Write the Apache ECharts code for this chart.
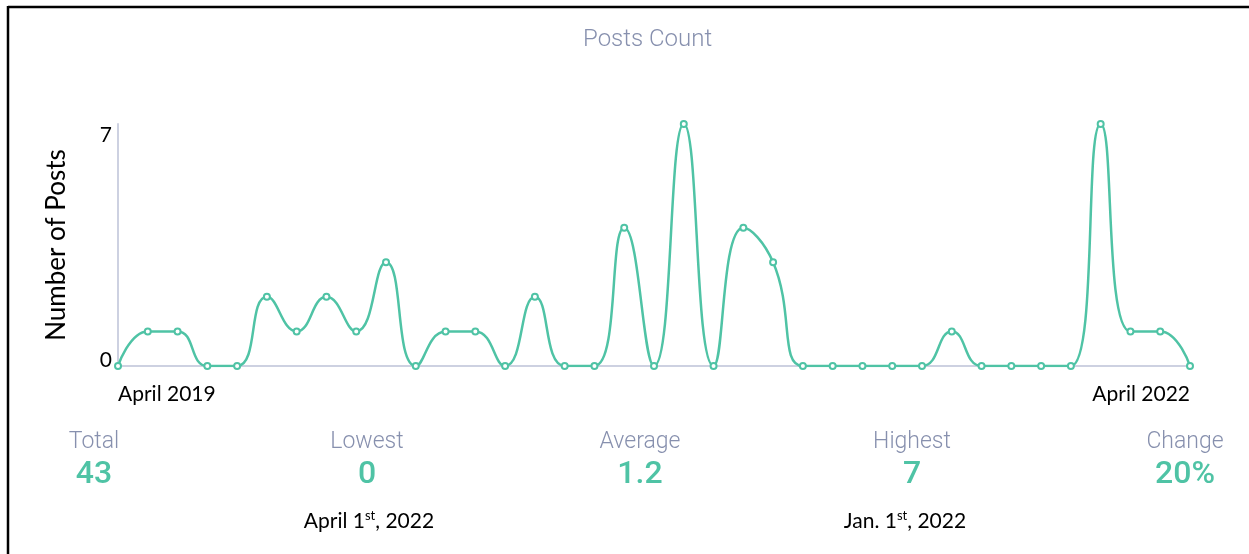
<!DOCTYPE html>
<html>
<head>
<meta charset="utf-8">
<script src="https://cdn.jsdelivr.net/npm/echarts@6/dist/echarts.min.js"></script>
<style>
  html, body { margin: 0; padding: 0; background: #fff; }
  #chart { width: 1249px; height: 554px; }
</style>
</head>
<body>
<div id="chart"></div>
<script>
// Monthly categories, April 2019 – April 2022
const months = [
  'April 2019','May 2019','June 2019','July 2019','August 2019','September 2019',
  'October 2019','November 2019','December 2019','January 2020','February 2020','March 2020',
  'April 2020','May 2020','June 2020','July 2020','August 2020','September 2020',
  'October 2020','November 2020','December 2020','January 2021','February 2021','March 2021',
  'April 2021','May 2021','June 2021','July 2021','August 2021','September 2021',
  'October 2021','November 2021','December 2021','January 2022','February 2022','March 2022',
  'April 2022'
];

// Number of posts per month
const posts = [
  0, 1, 1, 0, 0, 2, 1, 2, 1, 3, 0, 1, 1, 0, 2, 0, 0, 4, 0, 7,
  0, 4, 3, 0, 0, 0, 0, 0, 1, 0, 0, 0, 0, 7, 1, 1, 0
];

// Y axis tick values
const yTicks = [0, 7];

// Summary row
const statLabels = ['Total', 'Lowest', 'Average', 'Highest', 'Change'];
const statValues = ['43', '0', '1.2', '7', '20%'];
const statNotes  = ['', 'April 1{sup|st}, 2022', '', 'Jan. 1{sup|st}, 2022', ''];

const TEAL = '#4fc3a5';
const MUTED = '#8790ae';
const AXIS = '#cdd1e1';

const statX = [94, 367, 640, 912, 1185];
const noteX = [0, 369, 0, 905, 0];

const graphics = [
  // frame lines
  { type: 'line', shape: { x1: 8, y1: 7, x2: 1249, y2: 7 }, style: { stroke: '#000', lineWidth: 2.5 } },
  { type: 'line', shape: { x1: 8, y1: 6, x2: 8, y2: 554 }, style: { stroke: '#000', lineWidth: 2.5 } }
];
statLabels.forEach((lab, i) => {
  graphics.push({
    type: 'text', x: statX[i], y: 442,
    style: { text: lab, fill: MUTED, font: '300 23px Roboto', align: 'center', verticalAlign: 'middle' }
  });
  graphics.push({
    type: 'text', x: statX[i], y: 475,
    style: { text: statValues[i], fill: TEAL, font: '500 32px Roboto', align: 'center', verticalAlign: 'middle' }
  });
  if (statNotes[i]) {
    graphics.push({
      type: 'text', x: noteX[i], y: 521,
      style: {
        text: statNotes[i], fill: '#000', fontFamily: 'Lato', fontSize: 21,
        align: 'center', verticalAlign: 'middle',
        rich: { sup: { fontFamily: 'Lato', fontSize: 13, fill: '#000', padding: [0, 0, 10, 0] } }
      }
    });
  }
});

const chart = echarts.init(document.getElementById('chart'));
chart.setOption({
  animation: false,
  title: {
    text: 'Posts Count',
    left: 578,
    top: 23,
    textStyle: { color: MUTED, fontFamily: 'Roboto', fontWeight: 300, fontSize: 24 }
  },
  grid: { left: 118, right: 59, top: 124, bottom: 188 },
  xAxis: {
    type: 'category',
    data: months,
    boundaryGap: false,
    axisLine: { lineStyle: { color: AXIS, width: 2 } },
    axisTick: { show: false },
    axisLabel: {
      interval: (i) => i === 0 || i === months.length - 1,
      color: '#000',
      fontFamily: 'Lato',
      fontSize: 21,
      margin: 18,
      alignMinLabel: 'left',
      alignMaxLabel: 'right'
    },
    splitLine: { show: false }
  },
  yAxis: {
    type: 'value',
    min: yTicks[0],
    max: yTicks[1],
    interval: yTicks[1] - yTicks[0],
    name: 'Number of Posts',
    nameLocation: 'middle',
    nameGap: 48,
    nameTextStyle: { color: '#000', fontFamily: 'Lato', fontSize: 26 },
    axisLine: { show: true, lineStyle: { color: AXIS, width: 2 } },
    axisTick: { show: false },
    splitLine: { show: false },
    axisLabel: {
      color: '#000',
      fontFamily: 'Lato',
      fontSize: 21,
      margin: 6,
      formatter: (v) => (v === yTicks[1] ? '{t|' + v + '}' : '{b|' + v + '}'),
      rich: {
        t: { fontFamily: 'Lato', fontSize: 21, color: '#000', padding: [22, 0, 0, 0] },
        b: { fontFamily: 'Lato', fontSize: 21, color: '#000', padding: [0, 0, 12, 0] }
      }
    }
  },
  series: [{
    type: 'line',
    data: posts,
    smooth: 0.5,
    symbol: 'emptyCircle',
    symbolSize: 6,
    lineStyle: { color: TEAL, width: 2.5 },
    itemStyle: { color: TEAL, borderWidth: 1.5 }
  }],
  graphic: graphics
});
</script>
</body>
</html>
